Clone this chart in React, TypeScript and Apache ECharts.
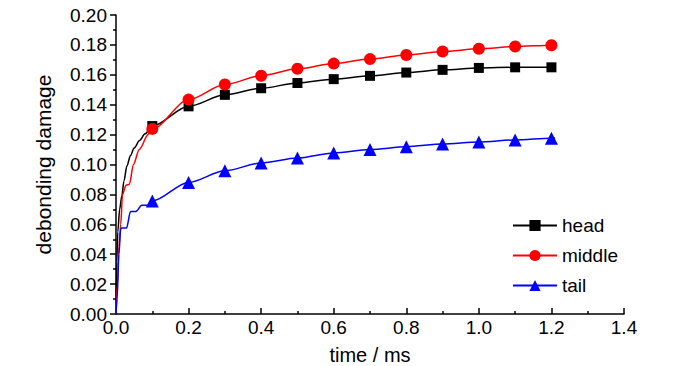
import React, { useEffect, useRef } from "react";
import * as echarts from "echarts";

const markerX = [0.1, 0.2, 0.3, 0.4, 0.5, 0.6, 0.7, 0.8, 0.9, 1.0, 1.1, 1.2];

const headX = [0, 0.002, 0.005, 0.01, 0.016, 0.022, 0.03, 0.04, 0.05, 0.065, 0.08, 0.1, 0.2, 0.3, 0.4, 0.5, 0.6, 0.7, 0.8, 0.9, 1.0, 1.1, 1.2, 1.21];
const headY = [0, 0.035, 0.055, 0.07, 0.079, 0.089, 0.099, 0.106, 0.111, 0.116, 0.1205, 0.1257, 0.1389, 0.1466, 0.151, 0.1545, 0.1571, 0.1593, 0.1615, 0.1633, 0.1646, 0.165, 0.165, 0.165];

const middleX = [0, 0.004, 0.008, 0.013, 0.018, 0.0276, 0.037, 0.048, 0.064, 0.089, 0.1, 0.2, 0.3, 0.4, 0.5, 0.6, 0.7, 0.8, 0.9, 1.0, 1.1, 1.2, 1.21];
const middleY = [0, 0.02, 0.045, 0.06, 0.08, 0.0862, 0.0868, 0.1, 0.11, 0.12, 0.1238, 0.1434, 0.1535, 0.1594, 0.164, 0.1675, 0.1705, 0.1732, 0.1756, 0.1774, 0.1789, 0.1798, 0.18];

const tailX = [0, 0.003, 0.008, 0.013, 0.016, 0.029, 0.04, 0.055, 0.071, 0.092, 0.1, 0.2, 0.3, 0.4, 0.5, 0.6, 0.7, 0.8, 0.9, 1.0, 1.1, 1.2, 1.21];
const tailY = [0, 0.01, 0.04, 0.057, 0.0575, 0.0575, 0.0685, 0.0685, 0.0727, 0.0727, 0.0756, 0.088, 0.0958, 0.101, 0.1043, 0.1077, 0.11, 0.1119, 0.1137, 0.1151, 0.1164, 0.1176, 0.1178];

const FONT = "Liberation Sans";

function build(xs: number[], ys: number[]) {
  return xs.map((x, i) => {
    const isMarker = markerX.some((m) => Math.abs(m - x) < 1e-6);
    return isMarker ? { value: [x, ys[i]] } : { value: [x, ys[i]], symbol: "none" };
  });
}

export default function App() {
  const ref = useRef<HTMLDivElement>(null);
  useEffect(() => {
    const chart = echarts.init(ref.current!, null, { renderer: "svg" });
    const mk = (name: string, xs: number[], ys: number[], color: string, symbol: string, size: number) => ({
      name,
      type: "line",
      data: build(xs, ys),
      symbol,
      symbolSize: size,
      showSymbol: true,
      showAllSymbol: true,
      smooth: 0.3,
      smoothMonotone: "x",
      lineStyle: { color, width: 1.5 },
      itemStyle: { color, borderWidth: 0 },
      emphasis: { disabled: true },
      z: 2,
    });
    chart.setOption({
      animation: false,
      textStyle: { fontFamily: FONT },
      grid: { left: 116, right: 76, top: 15, bottom: 52, containLabel: false, outerBoundsMode: "none" },
      legend: {
        orient: "vertical",
        left: 512,
        top: 216,
        padding: 0,
        itemWidth: 44,
        itemHeight: 14,
        itemGap: 11,
        textStyle: { fontFamily: FONT, fontSize: 19, color: "#000" },
        data: ["head", "middle", "tail"],
      },
      xAxis: {
        type: "value",
        min: 0,
        max: 1.4,
        interval: 0.2,
        name: "time / ms",
        nameLocation: "middle",
        nameGap: 31,
        nameTextStyle: { fontFamily: FONT, fontSize: 20, lineHeight: 20, color: "#000" },
        axisLine: { lineStyle: { color: "#000", width: 1.5 } },
        axisTick: { inside: true, length: 6, lineStyle: { color: "#000", width: 1.5 } },
        minorTick: { show: true, splitNumber: 2, length: 3, lineStyle: { color: "#000", width: 1.5 } },
        axisLabel: { fontFamily: FONT, fontSize: 19, color: "#000", margin: 4, formatter: (v: number) => v.toFixed(1) },
        splitLine: { show: false },
      },
      yAxis: {
        type: "value",
        min: 0,
        max: 0.2,
        interval: 0.02,
        name: "debonding damage",
        nameLocation: "middle",
        nameGap: 62,
        nameTextStyle: { fontFamily: FONT, fontSize: 21, color: "#000" },
        axisLine: { show: true, lineStyle: { color: "#000", width: 1.5 } },
        axisTick: { show: true, inside: false, length: 6, lineStyle: { color: "#000", width: 1.5 } },
        minorTick: { show: true, splitNumber: 2, length: 3, lineStyle: { color: "#000", width: 1.5 } },
        axisLabel: { fontFamily: FONT, fontSize: 19, color: "#000", margin: 9, formatter: (v: number) => v.toFixed(2) },
        splitLine: { show: false },
      },
      series: [
        mk("head", headX, headY, "#000000", "rect", 10),
        mk("middle", middleX, middleY, "#ff0000", "circle", 12),
        mk("tail", tailX, tailY, "#0000ff", "triangle", 13),
      ],
    });
    return () => chart.dispose();
  }, []);
  return <div ref={ref} style={{ width: 700, height: 366, position: "absolute", left: 0, top: 0 }} />;
}
